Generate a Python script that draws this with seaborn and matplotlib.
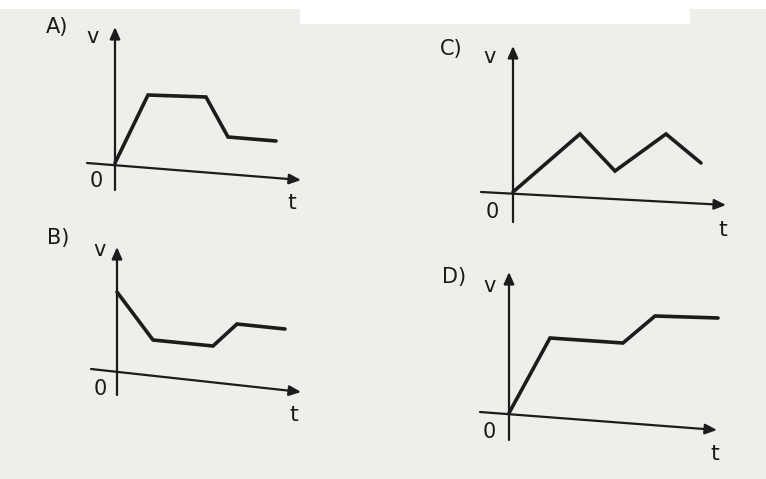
import matplotlib
matplotlib.use("Agg")
import matplotlib.pyplot as plt
import matplotlib.patches as mpatches
import seaborn as sns
import pandas as pd

sns.set_theme(style="white")
plt.rcParams['font.family'] = ['DejaVu Sans']

W, H = 766, 479
PAPER = "#efeeea"
INK = "#1c1c1c"

# ---- data (pixel-ish units relative to each graph's origin) ----
panels = ["A)", "B)", "C)", "D)"]
t_A = [0, 33, 91, 113, 161]
v_A = [0, 68, 66, 26, 22]
t_B = [0, 36, 96, 120, 168]
v_B = [78, 30, 24, 46, 41]
t_C = [0, 67, 102, 153, 188]
v_C = [0, 58, 21, 58, 29]
t_D = [0, 41, 114, 146, 209]
v_D = [0, 75, 70, 97, 95]
series = {"A)": (t_A, v_A), "B)": (t_B, v_B), "C)": (t_C, v_C), "D)": (t_D, v_D)}

# layout: axes box in pixels (x0, x1, y0, y1), origin pixel, axis ends, labels
layout = {
    "A)": dict(box=(30, 330, 10, 225), origin=(115, 163),
               vaxis=((0, -27), (0, 136)), taxis=((-28, 0), (186, -17)),
               lab=(-58, 136), v=(-22, 126), zero=(-19, -18), t=(177, -40)),
    "B)": dict(box=(30, 330, 225, 440), origin=(117, 370),
               vaxis=((0, -25), (0, 123)), taxis=((-26, 1), (184, -22)),
               lab=(-59, 132), v=(-17, 120), zero=(-17, -19), t=(177, -45)),
    "C)": dict(box=(420, 750, 20, 250), origin=(513, 192),
               vaxis=((0, -30), (0, 146)), taxis=((-32, 0), (213, -13)),
               lab=(-62, 143), v=(-23, 135), zero=(-21, -20), t=(210, -38)),
    "D)": dict(box=(420, 750, 255, 475), origin=(509, 413),
               vaxis=((0, -27), (0, 141)), taxis=((-29, 1), (208, -17)),
               lab=(-55, 136), v=(-19, 127), zero=(-20, -19), t=(206, -41)),
}

fig = plt.figure(figsize=(W / 100, H / 100), dpi=100)
fig.patch.set_facecolor(PAPER)
# white photo edge at top
fig.patches.append(mpatches.Rectangle((0, 1 - 9 / H), 1, 9 / H, transform=fig.transFigure,
                                      facecolor="white", edgecolor="none", zorder=0))
fig.patches.append(mpatches.Rectangle((300 / W, 1 - 24 / H), 390 / W, 24 / H, transform=fig.transFigure,
                                      facecolor="white", edgecolor="none", zorder=0))

TXT = "#1a1a1a"
for name in panels:
    L = layout[name]
    x0, x1, y0, y1 = L["box"]
    ox, oy = L["origin"]
    ax = fig.add_axes([x0 / W, 1 - y1 / H, (x1 - x0) / W, (y1 - y0) / H])
    ax.set_facecolor("none")
    t, v = series[name]
    df = pd.DataFrame({"t": t, "v": v})
    sns.lineplot(data=df, x="t", y="v", ax=ax, color=INK, linewidth=2.6,
                 sort=False, solid_joinstyle="miter")
    ax.set_xlim(x0 - ox, x1 - ox)
    ax.set_ylim(oy - y1, oy - y0)
    ax.set_axis_off()
    # axes arrows
    for (s, e) in (L["vaxis"], L["taxis"]):
        ax.annotate("", xy=e, xytext=s,
                    arrowprops=dict(arrowstyle="-|>,head_length=0.5,head_width=0.22",
                                    color=INK, lw=1.6,
                                    mutation_scale=14, shrinkA=0, shrinkB=0))
    ax.text(*L["lab"], name, fontsize=15, color=TXT, ha="center", va="center")
    ax.text(*L["v"], "v", fontsize=15, color=TXT, ha="center", va="center")
    ax.text(*L["zero"], "0", fontsize=15, color=TXT, ha="center", va="center")
    ax.text(*L["t"], "t", fontsize=16, color=TXT, ha="center", va="center")

fig.savefig("out.png", dpi=100, facecolor=fig.get_facecolor())
